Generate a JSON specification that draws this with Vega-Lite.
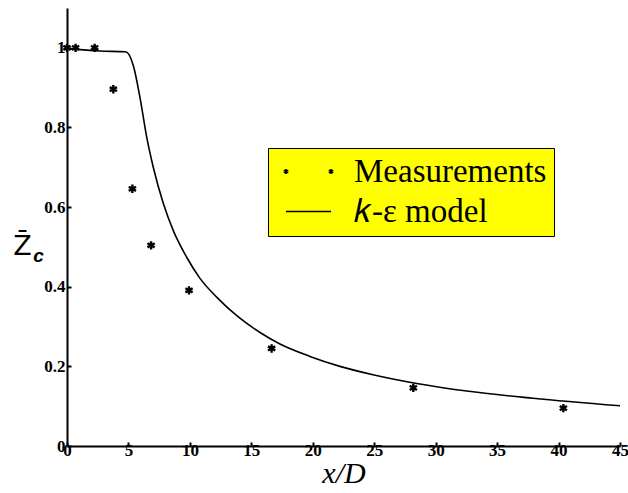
{
  "$schema": "https://vega.github.io/schema/vega-lite/v6.json",
  "width": 553,
  "height": 438,
  "autosize": "none",
  "padding": {"left": 67, "top": 8, "right": 8, "bottom": 47},
  "background": "white",
  "config": {
    "view": {"stroke": null},
    "axis": {
      "grid": false,
      "domainColor": "black",
      "domainWidth": 2,
      "tickColor": "black",
      "tickWidth": 2,
      "tickSize": -4,
      "labelColor": "black",
      "titleColor": "black"
    }
  },
  "data": {
    "values": [
      {"series": "Measurements", "x": 0, "y": 1.0},
      {"series": "Measurements", "x": 0.7, "y": 1.0},
      {"series": "Measurements", "x": 2.25, "y": 1.0},
      {"series": "Measurements", "x": 3.77, "y": 0.896},
      {"series": "Measurements", "x": 5.32, "y": 0.646},
      {"series": "Measurements", "x": 6.84, "y": 0.504},
      {"series": "Measurements", "x": 9.93, "y": 0.391},
      {"series": "Measurements", "x": 16.65, "y": 0.245},
      {"series": "Measurements", "x": 28.18, "y": 0.146},
      {"series": "Measurements", "x": 40.39, "y": 0.095},
      {"series": "k-ε model", "x": 0, "y": 0.998},
      {"series": "k-ε model", "x": 2.69, "y": 0.992},
      {"series": "k-ε model", "x": 4.78, "y": 0.99},
      {"series": "k-ε model", "x": 5.4, "y": 0.955},
      {"series": "k-ε model", "x": 5.94, "y": 0.875},
      {"series": "k-ε model", "x": 6.49, "y": 0.775},
      {"series": "k-ε model", "x": 7.02, "y": 0.7},
      {"series": "k-ε model", "x": 7.84, "y": 0.609},
      {"series": "k-ε model", "x": 8.65, "y": 0.541},
      {"series": "k-ε model", "x": 9.74, "y": 0.474},
      {"series": "k-ε model", "x": 10.82, "y": 0.421},
      {"series": "k-ε model", "x": 12.18, "y": 0.374},
      {"series": "k-ε model", "x": 13.94, "y": 0.324},
      {"series": "k-ε model", "x": 15.71, "y": 0.285},
      {"series": "k-ε model", "x": 17.33, "y": 0.256},
      {"series": "k-ε model", "x": 19.77, "y": 0.225},
      {"series": "k-ε model", "x": 22.21, "y": 0.2},
      {"series": "k-ε model", "x": 24.9, "y": 0.179},
      {"series": "k-ε model", "x": 28.46, "y": 0.157},
      {"series": "k-ε model", "x": 32.53, "y": 0.138},
      {"series": "k-ε model", "x": 37.92, "y": 0.12},
      {"series": "k-ε model", "x": 45, "y": 0.101}
    ]
  },
  "encoding": {
    "x": {
      "field": "x",
      "type": "quantitative",
      "scale": {"domain": [0, 45], "nice": false, "zero": false},
      "axis": {
        "values": [0, 5, 10, 15, 20, 25, 30, 35, 40, 45],
        "labelFont": "Liberation Serif",
        "labelFontWeight": "bold",
        "labelFontSize": 17,
        "labelPadding": 0,
        "labelFlush": false,
        "title": "x/D",
        "titleFont": "Liberation Serif",
        "titleFontStyle": "italic",
        "titleFontWeight": "normal",
        "titleFontSize": 30,
        "titlePadding": 0
      }
    },
    "y": {
      "field": "y",
      "type": "quantitative",
      "scale": {"domain": [0, 1.1], "nice": false, "zero": false},
      "axis": {
        "values": [0, 0.2, 0.4, 0.6, 0.8, 1],
        "format": "~g",
        "labelFont": "Liberation Serif",
        "labelFontWeight": "bold",
        "labelFontSize": 17,
        "labelPadding": 6,
        "labelFlush": false,
        "title": "Z̄",
        "titleAngle": 0,
        "titleFont": "DejaVu Sans",
        "titleFontWeight": "normal",
        "titleFontSize": 27,
        "titleAlign": "center",
        "titleBaseline": "middle",
        "titleX": -45,
        "titleY": 238
      }
    }
  },
  "layer": [
    {
      "transform": [{"filter": "datum.series === 'Measurements'"}],
      "mark": {
        "type": "point",
        "shape": "M0,-1L0,1M-0.87,-0.5L0.87,0.5M-0.87,0.5L0.87,-0.5",
        "size": 70,
        "filled": false,
        "stroke": "black",
        "strokeWidth": 2.4,
        "opacity": 1
      }
    },
    {
      "transform": [{"filter": "datum.series === 'k-ε model'"}],
      "mark": {"type": "line", "color": "black", "strokeWidth": 1.6, "interpolate": "monotone"},
      "encoding": {
        "y": {
          "field": "y",
          "type": "quantitative",
          "axis": {
            "orient": "left",
            "domain": false,
            "ticks": false,
            "labels": false,
            "title": "c",
            "titleAngle": 0,
            "titleFont": "Liberation Sans",
            "titleFontWeight": "bold",
            "titleFontStyle": "italic",
            "titleFontSize": 19,
            "titleAlign": "center",
            "titleBaseline": "middle",
            "titleX": -29,
            "titleY": 247
          }
        }
      }
    },
    {
      "transform": [{"filter": "false"}],
      "mark": {
        "type": "point",
        "filled": false,
        "stroke": "black",
        "strokeWidth": 1.5,
        "opacity": 1
      },
      "encoding": {
        "y": {"field": "y", "type": "quantitative", "axis": null},
        "shape": {
          "field": "series",
          "type": "nominal",
          "scale": {
            "domain": ["Measurements", "𝑘-ε model"],
            "range": [
              "M-1.5,-0.17L-1.5,0.17M-1.65,-0.085L-1.35,0.085M-1.65,0.085L-1.35,-0.085M1.5,-0.17L1.5,0.17M1.35,-0.085L1.65,0.085M1.35,0.085L1.65,-0.085",
              "M-1.5,0L1.5,0"
            ]
          },
          "legend": {
            "title": null,
            "orient": "none",
            "legendX": 201,
            "legendY": 140,
            "fillColor": "#FFFF00",
            "strokeColor": "black",
            "padding": 7,
            "symbolSize": 900,
            "symbolOffset": 17,
            "symbolStrokeColor": "black",
            "symbolStrokeWidth": 1.6,
            "symbolFillColor": "transparent",
            "symbolOpacity": 1,
            "labelFont": "Liberation Serif",
            "labelFontSize": 33,
            "labelColor": "black",
            "labelOffset": 29,
            "labelLimit": 400,
            "rowPadding": 6,
            "encode": {"legend": {"update": {"strokeWidth": {"value": 1.5}}}}
          }
        }
      }
    }
  ],
  "resolve": {"axis": {"y": "independent"}}
}
